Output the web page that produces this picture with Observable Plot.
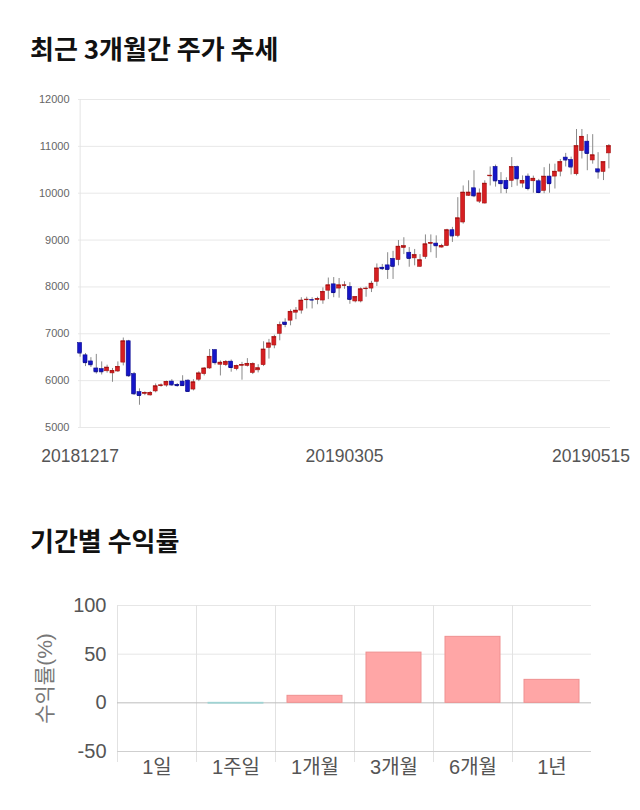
<!DOCTYPE html>
<html><head><meta charset="utf-8">
<script src="https://cdn.jsdelivr.net/npm/d3@7"></script>
<script src="https://cdn.jsdelivr.net/npm/@observablehq/plot@0.6"></script>
<style>
body{margin:0;background:#fff;}
#wrap{position:relative;width:640px;height:810px;overflow:hidden;background:#fff;}
.title{position:absolute;left:30px;font-size:26px;font-weight:700;color:#111;font-family:"Noto Sans CJK KR",sans-serif;line-height:1;}
#c1{position:absolute;left:0;top:80px;}
#c2{position:absolute;left:0;top:580px;}
</style></head><body>
<div id="wrap">
<div class="title" style="top:35px">최근 3개월간 주가 추세</div>
<div id="c1"></div>
<div class="title" style="top:527px">기간별 수익률</div>
<div id="c2"></div>
</div>
<script>
// ---- candlestick data (2018-12-17 .. 2019-05-15, 99 trading days) ----
const opens  = [6800,6540,6410,6260,6245,6200,6155,6195,6385,6840,6140,5755,5720,5685,5770,5890,5895,5980,5910,5980,
6000,5810,6020,6140,6260,6650,6340,6330,6405,6245,6320,6315,6165,6220,6330,6700,6750,7000,7240,7280,
7450,7495,7725,7725,7725,7710,7920,8055,7965,8030,8000,7690,7690,7960,7965,8110,8410,8460,8600,8575,
8830,8730,8610,8430,8640,8925,8925,8840,8875,9210,9090,9375,9945,10105,9820,9780,10365,10560,10265,10265,
10265,10560,10205,10355,10255,10255,10050,10355,10355,10460,10760,10710,10405,10900,11100,10700,10510,10455,10850];
const highs  = [6810,6580,6490,6560,6400,6330,6260,6400,6910,6860,6175,5825,5760,5765,5930,5930,5990,6020,5940,6105,
6020,6020,6190,6280,6665,6665,6420,6430,6440,6330,6390,6470,6380,6340,6830,6880,6970,7250,7320,7510,
7560,7770,7780,7770,7780,7980,8190,8200,8180,8110,8090,7790,7980,8000,8120,8490,8480,8730,8760,8990,
9050,8840,8800,8690,9110,9110,9090,8910,9230,9270,9905,10155,10265,10480,10090,10265,10560,10600,10440,10330,
10760,10580,10370,10410,10365,10295,10545,10620,10620,10720,10850,10770,11360,11360,11250,11250,10865,10590,11040];
const lows   = [6500,6300,6280,6140,6120,6160,5965,6175,6315,6070,5685,5475,5680,5670,5740,5860,5860,5880,5860,5880,
5750,5780,5980,6100,6240,6330,6100,6300,6180,6210,6010,6290,6130,6165,6300,6460,6680,6850,7130,7170,
7300,7420,7530,7530,7620,7630,7730,7770,7760,7950,7630,7660,7660,7780,7880,8010,8350,8160,8160,8450,
8690,8420,8450,8420,8590,8730,8610,8830,8860,8950,9050,9340,9930,9905,9780,9770,10155,10130,9990,9990,
10120,10150,10110,10050,10000,9990,9990,10000,10090,10350,10560,10390,10370,10730,10480,10620,10300,10270,10520];
const closes = [6590,6385,6340,6190,6190,6280,6210,6295,6840,6105,5720,5685,5740,5740,5880,5900,5975,5910,5895,5895,
5770,5965,6155,6260,6510,6385,6385,6400,6280,6315,6335,6360,6355,6265,6665,6795,6930,7185,7200,7470,
7495,7710,7730,7720,7745,7895,8035,7880,8035,8035,7735,7785,7950,7965,8070,8395,8390,8375,8440,8860,
8870,8610,8680,8570,8910,8935,8880,8875,9210,9090,9465,10015,10015,9945,9995,10205,10375,10265,10205,10100,
10560,10310,10265,10100,10310,10015,10355,10205,10460,10665,10710,10560,11005,11205,10850,10810,10455,10665,11005];
const priceTicks = [5000,6000,7000,8000,9000,10000,11000,12000];
const dateLabels = ["20181217","20190305","20190515"];
const dateIndex  = [0,49,98];

// ---- period returns ----
const periods = ["1일","1주일","1개월","3개월","6개월","1년"];
const returns = [0,-0.8,7.2,51.6,67.8,23.6];
const returnTicks = [-50,0,50,100];

const RED = "#d61f22", BLUE = "#1515c8";
const candles = opens.map((o,i)=>({i, open:o, high:highs[i], low:lows[i], close:closes[i], up: closes[i] >= o}));
const labels = dateLabels.map((t,k)=>({t, x:dateIndex[k]}));
const half = 0.37;
const plain = d => String(d);

const chart1 = Plot.plot({
  width:640, height:400, marginTop:19, marginBottom:53, marginLeft:78, marginRight:30,
  style:{fontFamily:"'Liberation Sans', Arial, sans-serif", background:"transparent"},
  x:{domain:[-0.3,98.3], axis:null},
  y:{domain:[5000,12000], axis:null},
  marks:[
    Plot.ruleY(priceTicks,{stroke:"#e8e8e8"}),
    Plot.ruleX([0],{stroke:"#e4e4e4"}),
    Plot.axisY(priceTicks,{tickSize:0, tickPadding:9, fontSize:11, fill:"#666", label:null, tickFormat:plain}),
    Plot.ruleX(candles,{x:"i", y1:"low", y2:"high", stroke:"#8a8a8a", strokeWidth:1}),
    Plot.rect(candles,{filter:d=>d.up, x1:d=>d.i-half, x2:d=>d.i+half, y1:"open", y2:"close", fill:RED, stroke:"#a51212", strokeWidth:0.6}),
    Plot.rect(candles,{filter:d=>!d.up, x1:d=>d.i-half, x2:d=>d.i+half, y1:"open", y2:"close", fill:BLUE, stroke:"#0a0a90", strokeWidth:0.6}),
    Plot.ruleY(candles,{filter:d=>d.up, x1:d=>d.i-half, x2:d=>d.i+half, y:"close", stroke:"#a51212"}),
    Plot.ruleY(candles,{filter:d=>!d.up, x1:d=>d.i-half, x2:d=>d.i+half, y:"close", stroke:"#0a0a90"}),
    Plot.text(labels.slice(0,2),{x:"x", text:"t", frameAnchor:"bottom", dy:34, fontSize:17.5, fill:"#555"}),
    Plot.text(labels.slice(2),{x:"x", text:"t", frameAnchor:"bottom", dy:34, dx:21, textAnchor:"end", fontSize:17.5, fill:"#555"})
  ]
});
document.getElementById("c1").appendChild(chart1);

const rows = periods.map((p,i)=>({p, r:returns[i]}));
const chart2 = Plot.plot({
  width:640, height:215, marginTop:25, marginBottom:44, marginLeft:117, marginRight:49,
  style:{fontFamily:"'Liberation Sans', 'Noto Sans CJK KR', sans-serif", background:"transparent"},
  x:{domain:periods, padding:0, axis:null},
  y:{domain:[-50,100], axis:null},
  marks:[
    Plot.ruleY([100,50],{stroke:"#e6e6e6"}),
    Plot.ruleX(periods,{x:d=>d, dx:-39.5, stroke:"#e2e2e2", insetBottom:-11}),
    Plot.ruleY([-50],{stroke:"#cfcfcf"}),
    Plot.ruleY([0],{stroke:"#bdbdbd"}),
    Plot.barY(rows,{filter:d=>d.r>=0, x:"p", y:"r", fill:"#ffa6a6", stroke:"#ef9090", strokeWidth:1, insetLeft:12, insetRight:12}),
    Plot.barY(rows,{filter:d=>d.r<0, x:"p", y:"r", fill:"#9fd3d3", stroke:"#9fd3d3", strokeWidth:1, insetLeft:12, insetRight:12}),
    Plot.axisY(returnTicks,{tickSize:0, tickPadding:11, fontSize:20, fill:"#555", label:null, tickFormat:plain}),
    Plot.axisX({tickSize:0, tickPadding:8, fontSize:20, fill:"#555", label:null}),
    Plot.text(["수익률(%)"],{frameAnchor:"left", textAnchor:"middle", rotate:-90, dx:-72, fontSize:21, fill:"#777"})
  ]
});
document.getElementById("c2").appendChild(chart2);
</script>
</body></html>
